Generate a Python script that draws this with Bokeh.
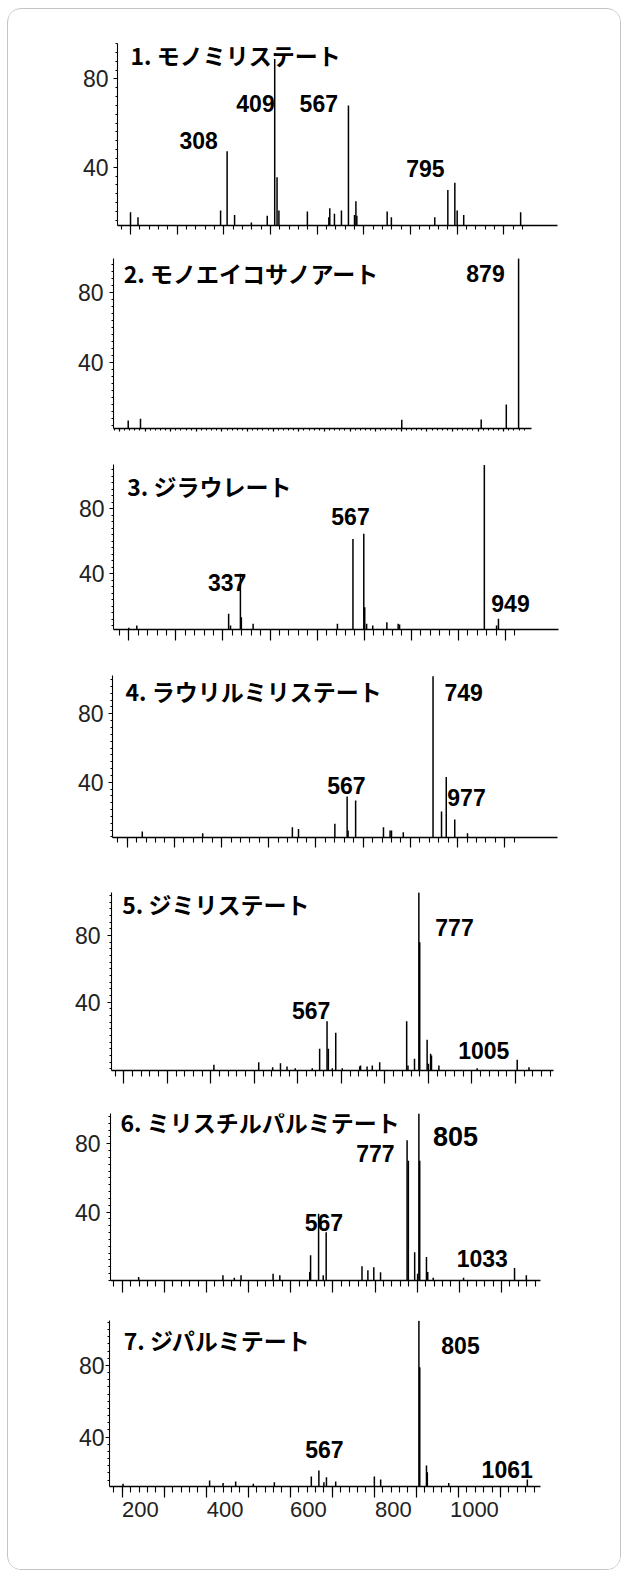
from bokeh.plotting import figure
from bokeh.models import ColumnDataSource, LinearAxis, FixedTicker, Range1d, Label, Spacer
from bokeh.layouts import column, row
from bokeh.embed import file_html
from bokeh.resources import INLINE

# ---------------- DATA ----------------
titles = ["1. モノミリステート", "2. モノエイコサノアート", "3. ジラウレート",
          "4. ラウリルミリステート", "5. ジミリステート", "6. ミリスチルパルミテート",
          "7. ジパルミテート"]

p1_mz = [100, 116, 293, 307, 323, 359, 393, 409, 414, 418, 479, 525, 527, 537, 552, 567,
         580, 583, 585, 650, 659, 752, 780, 795, 800, 814, 936]
p1_int = [19.6, 17.3, 20.4, 47.2, 18.4, 15.0, 18.0, 89.0, 35.4, 20.4, 19.9, 17.3, 21.4, 18.9,
          20.4, 67.9, 18.4, 24.6, 18.0, 19.9, 17.3, 17.3, 29.7, 33.0, 20.4, 18.4, 19.6]

p2_mz = [117, 141, 651, 806, 855, 879]
p2_int = [6.7, 7.7, 7.1, 7.3, 15.8, 99.5]

p3_mz = [100, 117, 312, 316, 337, 339, 364, 543, 576, 599, 601, 605, 618, 648, 672, 675,
         855, 881, 885]
p3_int = [6.8, 8.2, 15.4, 8.2, 40.0, 13.3, 9.2, 9.2, 61.5, 64.6, 19.4, 9.2, 8.2, 10.2, 9.2,
          8.8, 107.0, 8.2, 12.3]

p4_mz = [132, 260, 450, 463, 540, 566, 568, 584, 643, 657, 660, 685, 748, 766, 776, 794, 821]
p4_int = [11.2, 10.2, 13.7, 12.7, 15.7, 31.6, 11.8, 29.3, 13.7, 11.8, 11.8, 10.8, 102.0,
          22.9, 43.0, 18.2, 10.2]

p5_mz = [307, 410, 442, 460, 475, 494, 533, 550, 567, 570, 579, 587, 602, 642, 644, 659, 671,
         688, 750, 753, 768, 778, 780, 797, 800, 805, 807, 824, 912, 1004, 1031]
p5_int = [2.4, 4.0, 1.0, 3.4, 1.4, 0.4, 0.3, 12.0, 28.6, 12.0, 0.3, 21.6, 0.3, 1.4, 2.0, 1.4,
          2.0, 4.0, 28.6, 2.0, 6.0, 106.0, 76.0, 17.4, 3.0, 9.0, 8.0, 2.0, 0.4, 5.4, 1.0]

p6_mz = [139, 339, 366, 382, 458, 474, 545, 547, 566, 577, 584, 669, 683, 697, 713, 776, 779,
         794, 801, 804, 806, 822, 825, 838, 910, 1031, 1059]
p6_int = [2.0, 3.0, 1.6, 3.0, 4.0, 3.0, 4.9, 14.7, 39.0, 3.0, 28.3, 8.4, 6.0, 7.8, 4.8, 82.0,
          70.0, 16.6, 4.0, 97.7, 70.0, 13.7, 4.9, 1.6, 1.6, 7.3, 3.0]

p7_mz = [102, 308, 340, 370, 412, 462, 550, 568, 580, 586, 608, 700, 715, 806, 808, 824, 826,
         877, 1064]
p7_int = [13.9, 15.8, 14.3, 15.2, 14.0, 14.8, 18.0, 21.3, 14.8, 17.6, 15.2, 18.0, 16.3, 105.0,
          79.0, 24.1, 20.4, 14.3, 16.3]

peak_labels = [["308", "409", "567", "795"], ["879"], ["337", "567", "949"],
               ["749", "567", "977"], ["777", "567", "1005"], ["805", "777", "567", "1033"],
               ["805", "567", "1061"]]

y_ticks = [40, 80]
x_tick_labels = ["200", "400", "600", "800", "1000"]

spectra = [(p1_mz, p1_int), (p2_mz, p2_int), (p3_mz, p3_int), (p4_mz, p4_int),
           (p5_mz, p5_int), (p6_mz, p6_int), (p7_mz, p7_int)]

# ---------------- LAYOUT ----------------
W = 612
panels = [
    dict(h=231, top=34, bottom=15, left=109, right=63, xr=(72.1, 1015), yr=(13.6, 96.0),
         maj=(100, 900, 100), mnr=(80, 940, 20), tmaj=9, tmin=4, ystand=5,
         lab_xy=[(246, 52.1), (367.8, 68.7), (503.5, 68.7), (732, 39.2)], lab_fs=[23, 23, 23, 23],
         title_xy=(100, 90.6)),
    dict(h=205, top=18, bottom=17, left=105, right=89, xr=(88.3, 904.2), yr=(2.1, 99.3),
         maj=(100, 850, 50), mnr=(90, 890, 10), tmaj=3, tmin=2, ystand=6,
         lab_xy=[(814.4, 90.5)], lab_fs=[23], title_xy=(108.4, 90.9)),
    dict(h=205, top=19, bottom=21, left=105, right=62, xr=(67.5, 1012.5), yr=(5.7, 107.3),
         maj=(100, 900, 100), mnr=(80, 920, 20), tmaj=11, tmin=6, ystand=5,
         lab_xy=[(309, 34.8), (570.8, 75.3), (910.6, 21.5)], lab_fs=[23, 23, 23],
         title_xy=(96.6, 94.3)),
    dict(h=210, top=25, bottom=23, left=104, right=63, xr=(68.9, 1011.7), yr=(7.7, 102.4),
         maj=(100, 900, 100), mnr=(80, 920, 20), tmaj=10, tmin=5, ystand=5,
         lab_xy=[(813, 92.6), (564.6, 38.1), (818.9, 31.2)], lab_fs=[23, 23, 23],
         title_xy=(96.4, 93.6)),
    dict(h=235, top=32, bottom=25, left=103, right=67, xr=(71.7, 1087.4), yr=(-1.0, 105.8),
         maj=(100, 1000, 100), mnr=(80, 1080, 20), tmaj=13, tmin=6, ystand=7,
         lab_xy=[(859.9, 85), (530.6, 35), (927.2, 11)], lab_fs=[23, 23, 23],
         title_xy=(96.3, 99)),
    dict(h=205, top=18, bottom=20, left=102, right=80, xr=(72.2, 1092.6), yr=(0.0, 97.7),
         maj=(100, 1000, 100), mnr=(80, 1080, 20), tmaj=12, tmin=6, ystand=6,
         lab_xy=[(891, 84.3), (701, 74.2), (578.4, 34.2), (954.3, 12.7)], lab_fs=[27, 23, 23, 23],
         title_xy=(96, 92.6)),
    dict(h=269, top=20, bottom=83, left=101, right=80, xr=(69.8, 1095.3), yr=(12.4, 105.1),
         maj=(100, 1000, 100), mnr=(80, 1080, 20), tmaj=11, tmin=6, ystand=1,
         lab_xy=[(905, 91.2), (581.3, 32.9), (1016, 21.7)], lab_fs=[23, 23, 23],
         title_xy=(103.8, 94)),
]
x_label_pos = [143, 345, 543, 745, 938]

NUM_FONT = "Liberation Sans"
JP_FONT = "Noto Sans CJK JP"

figs = []
for i, cfg in enumerate(panels):
    mz, inten = spectra[i]
    p = figure(width=W, height=cfg["h"], output_backend="svg", toolbar_location=None,
               x_axis_type=None, y_axis_type=None,
               x_range=Range1d(*cfg["xr"]), y_range=Range1d(*cfg["yr"]),
               min_border_top=cfg["top"], min_border_bottom=cfg["bottom"],
               min_border_left=cfg["left"], min_border_right=cfg["right"],
               outline_line_color=None, background_fill_color="white",
               border_fill_color="white", frame_align=False)

    a0, a1, astep = cfg["maj"]
    m0, m1, mstep = cfg["mnr"]
    xax = LinearAxis(ticker=FixedTicker(ticks=list(range(a0, a1 + 1, astep)),
                                        minor_ticks=list(range(m0, m1 + 1, mstep))))
    xax.axis_line_color = "black"
    xax.axis_line_width = 1.3
    xax.major_tick_line_color = "black"
    xax.minor_tick_line_color = "black"
    xax.major_tick_line_width = 1.2
    xax.minor_tick_line_width = 1.1
    xax.major_tick_in = 0
    xax.minor_tick_in = 0
    xax.major_tick_out = cfg["tmaj"]
    xax.minor_tick_out = cfg["tmin"]
    xax.major_label_text_font_size = "1px"
    xax.major_label_text_color = None
    xax.major_label_standoff = 0
    p.add_layout(xax, "below")

    if i == 6:
        lab_ax = LinearAxis(ticker=FixedTicker(ticks=x_label_pos, minor_ticks=[]),
                            major_label_overrides={pos: t for pos, t in zip(x_label_pos, x_tick_labels)})
        lab_ax.axis_line_color = None
        lab_ax.major_tick_line_color = None
        lab_ax.minor_tick_line_color = None
        lab_ax.major_tick_out = 0
        lab_ax.major_tick_in = 0
        lab_ax.major_label_standoff = 4
        lab_ax.major_label_text_font = NUM_FONT
        lab_ax.major_label_text_font_size = "22px"
        lab_ax.major_label_text_color = "#222222"
        p.add_layout(lab_ax, "below")

    yax = LinearAxis(ticker=FixedTicker(ticks=y_ticks, minor_ticks=list(range(0, 112, 4))))
    yax.axis_line_color = "black"
    yax.axis_line_width = 1.1
    yax.major_tick_line_color = "black"
    yax.minor_tick_line_color = "black"
    yax.major_tick_in = 0
    yax.minor_tick_in = 0
    yax.major_tick_out = 4
    yax.minor_tick_out = 2
    yax.major_label_standoff = cfg["ystand"]
    yax.major_label_text_font = NUM_FONT
    yax.major_label_text_font_size = "23px"
    yax.major_label_text_color = "#222222"
    yax.major_label_orientation = "horizontal"
    p.add_layout(yax, "left")

    src = ColumnDataSource(dict(mz=mz, inten=inten))
    p.segment(x0="mz", x1="mz", y0=cfg["yr"][0] - 20, y1="inten", source=src,
              line_color="black", line_width=1.5)

    for txt, (lx, ly), fs in zip(peak_labels[i], cfg["lab_xy"], cfg["lab_fs"]):
        p.add_layout(Label(x=lx, y=ly, text=txt, text_align="center", text_baseline="middle",
                           text_font=NUM_FONT, text_font_style="bold",
                           text_font_size=f"{fs}px", text_color="black"))
    tx, ty = cfg["title_xy"]
    p.add_layout(Label(x=tx, y=ty, text=titles[i], text_align="left", text_baseline="middle",
                       text_font=JP_FONT, text_font_style="bold", text_font_size="23px",
                       text_color="black"))
    figs.append(p)

inner = column(*figs, spacing=0,
               styles={"border": "1px solid #c4c4c4", "border-radius": "14px",
                       "background-color": "white", "overflow": "hidden"})
layout = row(Spacer(width=7, height=10), column(Spacer(width=10, height=8), inner))

open("out.html", "w").write(file_html(layout, INLINE))
